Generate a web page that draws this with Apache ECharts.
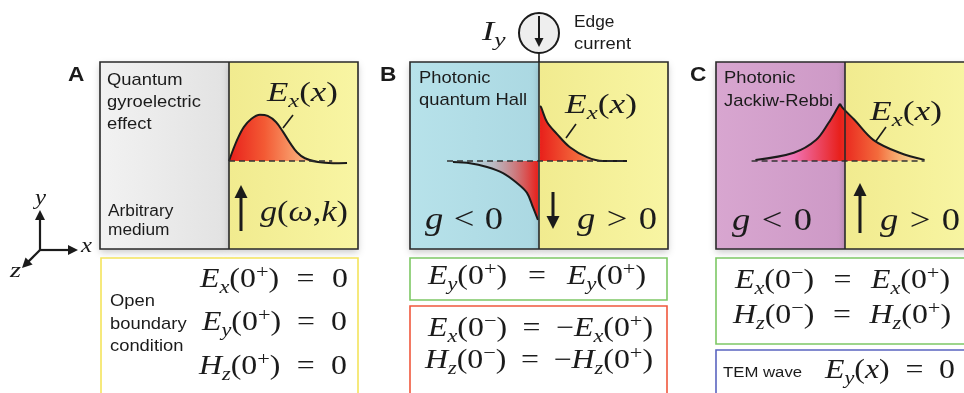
<!DOCTYPE html>
<html>
<head>
<meta charset="utf-8">
<script src="https://cdn.jsdelivr.net/npm/echarts@6/dist/echarts.min.js"></script>
<style>
  html, body { margin: 0; background: #fff; }
  #main { width: 964px; height: 393px; }
</style>
</head>
<body>
<div id="main"></div>
<script>
// field profiles E_x(x): x in half-panel widths (0 = interface), y in amplitude units (0 = dashed baseline)
const fieldA = [[0, 0], [0.031, 0.2], [0.07, 0.42], [0.116, 0.62], [0.17, 0.76], [0.24, 0.84], [0.3, 0.82],
  [0.364, 0.71], [0.419, 0.53], [0.473, 0.33], [0.527, 0.16], [0.589, 0.05], [0.69, -0.02], [0.806, -0.04], [0.915, -0.035]];
const fieldBRight = [[0.008, 1.0], [0.016, 0.98], [0.062, 0.71], [0.14, 0.49], [0.24, 0.25], [0.372, 0.07], [0.496, 0], [0.682, 0]];
const fieldBLeft = [[-0.667, -0.02], [-0.535, -0.04], [-0.403, -0.11], [-0.279, -0.22], [-0.171, -0.4], [-0.093, -0.58], [-0.047, -0.84], [-0.008, -1.07]];
const fieldCLeft = [[-0.682, 0.02], [-0.372, 0.15], [-0.194, 0.38], [-0.093, 0.69], [-0.016, 0.98], [0, 1.04]];
const fieldCRight = [[0, 1.04], [0.023, 0.96], [0.116, 0.75], [0.271, 0.38], [0.481, 0.15], [0.682, 0.02]];
const baseA = [[0, 0], [0.8, 0]];
const baseB = [[-0.713, 0], [0.682, 0]];
const baseC = [[-0.713, 0], [0.682, 0]];

const ink = '#1b1b1b';
const g = [];
const mc = document.createElement('canvas').getContext('2d');

function rect(x, y, w, h, style, z) {
  g.push({ type: 'rect', shape: { x: x, y: y, width: w, height: h }, style: style, z: z || 1 });
}
function line(x1, y1, x2, y2, lw, color) {
  g.push({ type: 'line', shape: { x1: x1, y1: y1, x2: x2, y2: y2 }, style: { stroke: color || ink, lineWidth: lw || 1.5 }, z: 20 });
}
function arrow(x1, y1, x2, y2, lw, head) {
  const dx = x2 - x1, dy = y2 - y1, len = Math.sqrt(dx * dx + dy * dy);
  const ux = dx / len, uy = dy / len;
  const bx = x2 - ux * head, by = y2 - uy * head;
  line(x1, y1, bx + ux, by + uy, lw);
  g.push({ type: 'polygon', shape: { points: [[x2, y2], [bx - uy * head * 0.5, by + ux * head * 0.5], [bx + uy * head * 0.5, by - ux * head * 0.5]] },
    style: { fill: ink }, z: 20 });
}
// sans text placed by baseline
function label(x, base, text, size, bold) {
  g.push({ type: 'text', x: x, y: base - 0.35 * size, scaleX: 1.08, z: 20,
    style: { text: text, fontFamily: 'Liberation Sans', fontSize: size, fontWeight: bold ? 'bold' : 'normal',
      fill: ink, align: 'left', verticalAlign: 'middle' } });
}
// math text: kinds i italic, r roman, b italic subscript, p roman superscript; ' ' tokens stretch to fit x0..x1
function math(x0, x1, base, size, parts) {
  const toks = parts.map(function (p) {
    const t = p[0], k = p[1];
    const small = k === 'b' || k === 'p';
    const s = small ? size * 0.7 : size;
    const it = k === 'i' || k === 'b';
    mc.font = (it ? 'italic ' : '') + s + 'px "Liberation Serif"';
    const dy = k === 'b' ? 0.19 * size : k === 'p' ? -0.36 * size : 0;
    return { t: t, s: s, it: it, dy: dy, w: t === ' ' ? 0 : mc.measureText(t).width };
  });
  const sx = 1.18;
  const gaps = toks.filter(function (t) { return t.t === ' '; }).length;
  const natural = toks.reduce(function (a, t) { return a + t.w; }, 0);
  let gap = 0, scale = sx;
  if (gaps) gap = Math.max(0, (x1 - x0 - natural * sx) / gaps);
  else scale = Math.min(1.35, Math.max(1, (x1 - x0) / natural));
  let x = x0;
  toks.forEach(function (t) {
    if (t.t === ' ') { x += gap; return; }
    g.push({ type: 'text', x: x, y: base + t.dy - 0.34 * t.s, scaleX: scale, z: 20,
      style: { text: t.t, fontFamily: 'Liberation Serif', fontStyle: t.it ? 'italic' : 'normal', fontSize: t.s,
        fill: ink, align: 'left', verticalAlign: 'middle' } });
    x += t.w * scale;
  });
}
function grad(c0, c1) {
  return new echarts.graphic.LinearGradient(0, 0, 1, 0, [{ offset: 0, color: c0 }, { offset: 1, color: c1 }]);
}

// panels: left edge, interface, left colour pair
const yellow = ['#f1eb8f', '#f8f5a3'];
const panels = [
  { x: 100, mid: 229, left: ['#f2f2f2', '#e2e2e2'] },
  { x: 410, mid: 539, left: ['#b7e2ea', '#abd8e2'] },
  { x: 716, mid: 845, left: ['#d8a6d0', '#cd99c6'] }
];
panels.forEach(function (p) {
  const sh = { shadowBlur: 7, shadowOffsetY: 3, shadowColor: 'rgba(0,0,0,0.22)' };
  rect(p.x, 62, p.mid - p.x, 187, Object.assign({ fill: grad(p.left[0], p.left[1]) }, sh), 1);
  rect(p.mid, 62, 129, 187, Object.assign({ fill: grad(yellow[0], yellow[1]) }, sh), 1);
  rect(p.x, 62, 258, 187, { fill: 'none', stroke: '#2a2a2a', lineWidth: 1.6 }, 20);
  line(p.mid, 62, p.mid, 249, 1.6, '#2a2a2a');
});

// boundary-condition boxes
rect(101, 258, 257, 150, { fill: '#fff', stroke: '#f4e45c', lineWidth: 1.6 }, 1);
rect(410, 258, 257, 42, { fill: '#fff', stroke: '#7dc865', lineWidth: 1.6 }, 1);
rect(410, 306, 257, 100, { fill: '#fff', stroke: '#f0583c', lineWidth: 1.6 }, 1);
rect(716, 258, 260, 86, { fill: '#fff', stroke: '#7dc865', lineWidth: 1.6 }, 1);
rect(716, 350, 260, 60, { fill: '#fff', stroke: '#5a64c0', lineWidth: 1.6 }, 1);

// panel letters and captions
label(68, 83, 'A', 21, true);
label(380, 83, 'B', 21, true);
label(690, 83, 'C', 21, true);
label(107, 86, 'Quantum', 17);
label(107, 108, 'gyroelectric', 17);
label(107, 130, 'effect', 17);
label(108, 217, 'Arbitrary', 16);
label(108, 236, 'medium', 16);
label(419, 84, 'Photonic', 17);
label(419, 106, 'quantum Hall', 17);
label(724, 84, 'Photonic', 17);
label(724, 107, 'Jackiw-Rebbi', 17);
label(574, 28, 'Edge', 16);
label(574, 50, 'current', 17);
label(110, 307, 'Open', 17);
label(110, 330, 'boundary', 17);
label(110, 352, 'condition', 17);
label(723, 378, 'TEM wave', 15.5);

// coordinate axes icon
arrow(40, 250, 40, 210, 2.2, 10);
arrow(40, 250, 78, 250, 2.2, 10);
arrow(40, 250, 22, 268, 2.2, 10);
math(35, 46, 206, 22, [['y', 'i']]);
math(81, 92, 254, 22, [['x', 'i']]);
math(10, 21, 279, 22, [['z', 'i']]);

// g arrows
arrow(241, 231, 241, 185, 3, 13);
arrow(553, 192, 553, 229, 3, 13);
arrow(860, 233, 860, 183, 3, 13);

// edge current symbol
g.push({ type: 'circle', shape: { cx: 539, cy: 33, r: 20 }, style: { fill: '#eeeeee', stroke: ink, lineWidth: 2 }, z: 20 });
arrow(539, 16, 539, 47, 2, 9);
line(539, 53, 539, 62, 1.6);
math(482, 512, 42, 27, [['I', 'i'], ['y', 'b']]);

// field labels and leader lines
math(267, 338, 103, 27, [['E', 'i'], ['x', 'b'], ['(', 'r'], ['x', 'i'], [')', 'r']]);
math(565, 637, 115, 27, [['E', 'i'], ['x', 'b'], ['(', 'r'], ['x', 'i'], [')', 'r']]);
math(870, 942, 122, 27, [['E', 'i'], ['x', 'b'], ['(', 'r'], ['x', 'i'], [')', 'r']]);
line(283, 128, 293, 115, 1.6);
line(566, 138, 576, 124, 1.6);
line(876, 141, 886, 127, 1.6);

math(260, 348, 223, 29, [['g', 'i'], ['(', 'r'], ['ω', 'i'], [',', 'r'], [' '], ['k', 'i'], [')', 'r']]);
math(425, 503, 231, 31, [['g', 'i'], [' '], ['<', 'r'], [' '], ['0', 'r']]);
math(577, 657, 231, 31, [['g', 'i'], [' '], ['>', 'r'], [' '], ['0', 'r']]);
math(732, 812, 232, 31, [['g', 'i'], [' '], ['<', 'r'], [' '], ['0', 'r']]);
math(880, 960, 232, 31, [['g', 'i'], [' '], ['>', 'r'], [' '], ['0', 'r']]);

// boundary conditions
const zeroPlus = [['(0', 'r'], ['+', 'p'], [')', 'r']];
const zeroMinus = [['(0', 'r'], ['−', 'p'], [')', 'r']];
const eqSign = [[' '], ['=', 'r'], [' ']];
math(200, 348, 289, 27, [['E', 'i'], ['x', 'b']].concat(zeroPlus, eqSign, [['0', 'r']]));
math(202, 347, 332, 27, [['E', 'i'], ['y', 'b']].concat(zeroPlus, eqSign, [['0', 'r']]));
math(199, 347, 376, 27, [['H', 'i'], ['z', 'b']].concat(zeroPlus, eqSign, [['0', 'r']]));
math(428, 646, 286, 27, [['E', 'i'], ['y', 'b']].concat(zeroPlus, eqSign, [['E', 'i'], ['y', 'b']], zeroPlus));
math(428, 653, 338, 27, [['E', 'i'], ['x', 'b']].concat(zeroMinus, eqSign, [['−', 'r'], ['E', 'i'], ['x', 'b']], zeroPlus));
math(425, 653, 370, 27, [['H', 'i'], ['z', 'b']].concat(zeroMinus, eqSign, [['−', 'r'], ['H', 'i'], ['z', 'b']], zeroPlus));
math(735, 950, 290, 27, [['E', 'i'], ['x', 'b']].concat(zeroMinus, eqSign, [['E', 'i'], ['x', 'b']], zeroPlus));
math(733, 951, 325, 27, [['H', 'i'], ['z', 'b']].concat(zeroMinus, eqSign, [['H', 'i'], ['z', 'b']], zeroPlus));
math(825, 955, 380, 27, [['E', 'i'], ['y', 'b'], ['(', 'r'], ['x', 'i'], [')', 'r']].concat(eqSign, [['0', 'r']]));

function field(data, gi, stops) {
  return {
    type: 'line', xAxisIndex: gi, yAxisIndex: gi, data: data, smooth: 0.35, symbol: 'none', z: 3,
    lineStyle: { color: ink, width: 2 },
    areaStyle: { opacity: 1, color: new echarts.graphic.LinearGradient(0, 0, 1, 0, stops) }
  };
}
function baseline(data, gi) {
  return {
    type: 'line', xAxisIndex: gi, yAxisIndex: gi, data: data, symbol: 'none', z: 4,
    lineStyle: { color: '#333', width: 1.4, type: [6, 4] }
  };
}
const hot = [{ offset: 0, color: '#e8201b' }, { offset: 0.45, color: '#f36b3c' }, { offset: 1, color: 'rgba(252,205,150,0.4)' }];

const chart = echarts.init(document.getElementById('main'));
chart.setOption({
  backgroundColor: '#fff',
  animation: false,
  grid: panels.map(function (p) { return { left: p.x, top: 62, width: 258, height: 187 }; }),
  xAxis: [0, 1, 2].map(function (i) { return { type: 'value', gridIndex: i, min: -1, max: 1, show: false }; }),
  yAxis: [0, 1, 2].map(function (i) { return { type: 'value', gridIndex: i, min: -1.6, max: 1.8, show: false }; }),
  series: [
    field(fieldA, 0, [{ offset: 0, color: '#e8201b' }, { offset: 0.3, color: '#f35a34' }, { offset: 0.6, color: '#f9a874' }, { offset: 1, color: 'rgba(250,210,150,0.3)' }]),
    field(fieldBRight, 1, hot),
    field(fieldBLeft, 1, [{ offset: 0, color: 'rgba(170,200,210,0)' }, { offset: 0.45, color: 'rgba(190,170,180,0.6)' }, { offset: 1, color: '#e8201b' }]),
    field(fieldCLeft, 2, [{ offset: 0, color: 'rgba(230,140,200,0.2)' }, { offset: 0.45, color: '#f073b4' }, { offset: 1, color: '#e8201b' }]),
    field(fieldCRight, 2, hot),
    baseline(baseA, 0),
    baseline(baseB, 1),
    baseline(baseC, 2)
  ],
  graphic: { elements: g }
});
</script>
</body>
</html>
